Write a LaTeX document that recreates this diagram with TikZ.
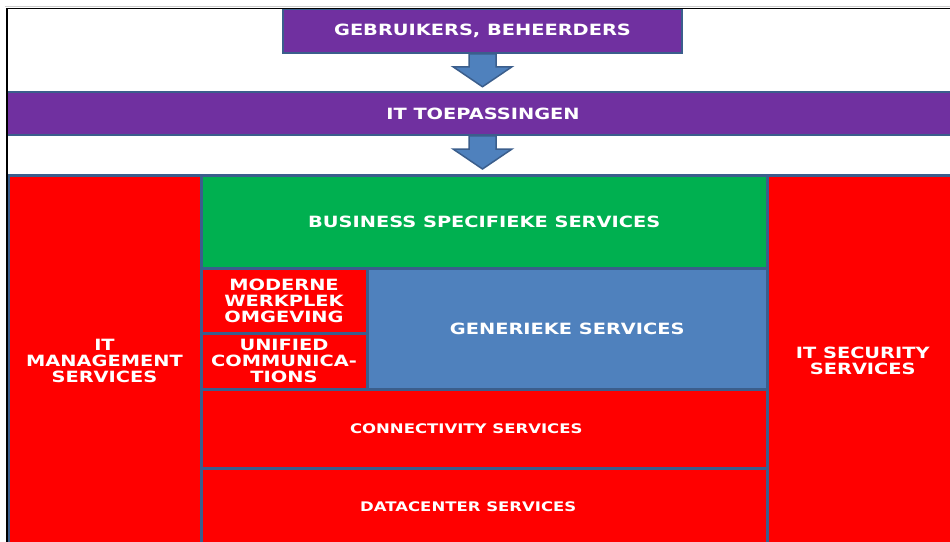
\documentclass[tikz,border=0pt]{standalone}
\usepackage{fontspec}
\newfontfamily\tilefont{DejaVu Sans}[FakeStretch=1.25]
\usetikzlibrary{calc}

\definecolor{tilepurple}{HTML}{7030A0}
\definecolor{tilegreen}{HTML}{00B050}
\definecolor{tilered}{HTML}{FF0000}
\definecolor{tileblue}{HTML}{4F81BD}
\definecolor{tileline}{HTML}{3B5E8C}

% block arrow pointing down, from one node to the next
\newcommand{\blockarrow}[2]{%
  \filldraw[fill=tileblue, draw=tileline, line width=1.5pt] let \p1=#1, \p2=#2 in
    (\x1-13.5pt,\y1) -- (\x1-13.5pt,\y2+24.5pt) -- (\x1-29.5pt,\y2+24.5pt) -- (\x1,\y2+4.5pt)
    -- (\x1+29.5pt,\y2+24.5pt) -- (\x1+13.5pt,\y2+24.5pt) -- (\x1+13.5pt,\y1) -- cycle;}

\begin{document}
\begin{tikzpicture}[x=1pt, y=-1pt,
  tile/.style={draw=tileline, line width=3pt, text=white, inner sep=0pt, align=center,
    font=\tilefont\bfseries\fontsize{15.5}{16}\selectfont},
  small/.style={font=\tilefont\bfseries\fontsize{13.2}{14}\selectfont}]

\clip (0,0) rectangle (950,541);
\fill [white] (0,0) rectangle (950,541);

\node [tile, fill=tilepurple, line width=1.5pt, minimum width=399pt, minimum height=44pt] (gebr) at (482.5,31) {GEBRUIKERS, BEHEERDERS};
\node [tile, fill=tilepurple, line width=1.5pt, minimum width=952pt, minimum height=43pt] (toep) at (483,113.5) {IT TOEPASSINGEN};

\node [tile, fill=tilered, minimum width=193pt, minimum height=371pt] (mgmt) at (104.5,360.5) {IT\\MANAGEMENT\\SERVICES};
\node [tile, fill=tilegreen, minimum width=566.5pt, minimum height=93pt] (biz) at (484.25,221.5) {BUSINESS SPECIFIEKE SERVICES};
\node [tile, fill=tilered, minimum width=166pt, minimum height=65pt] (werkplek) at (284,300.5) {MODERNE\\WERKPLEK\\OMGEVING};
\node [tile, fill=tilered, minimum width=166pt, minimum height=56.5pt] (ucom) at (284,361.25) {UNIFIED\\COMMUNICA-\\TIONS};
\node [tile, fill=tileblue, minimum width=400.5pt, minimum height=121.5pt] (gen) at (567.25,328.75) {GENERIEKE SERVICES};
\node [tile, small, fill=tilered, minimum width=566.5pt, minimum height=78.5pt] (conn) at (484.25,428.75) {\makebox[0pt]{\hspace{-36pt}CONNECTIVITY SERVICES}};
\node [tile, small, fill=tilered, minimum width=566.5pt, minimum height=78pt] (dc) at (484.25,507) {\makebox[0pt]{\hspace{-32pt}DATACENTER SERVICES}};
\node [tile, fill=tilered, minimum width=190.5pt, minimum height=371pt] (sec) at (862.75,360.5) {IT SECURITY\\SERVICES};

\blockarrow{(gebr.south)}{(toep.north)}
\blockarrow{(gebr.south |- toep.south)}{(gebr.south |- biz.north)}

% window frame
\draw [gray!40, line width=1pt] (951,6.5) -- (5,6.5);
\draw [line width=1.5pt] (951,8.5) -- (7,8.5) -- (7,542);
\end{tikzpicture}
\end{document}
